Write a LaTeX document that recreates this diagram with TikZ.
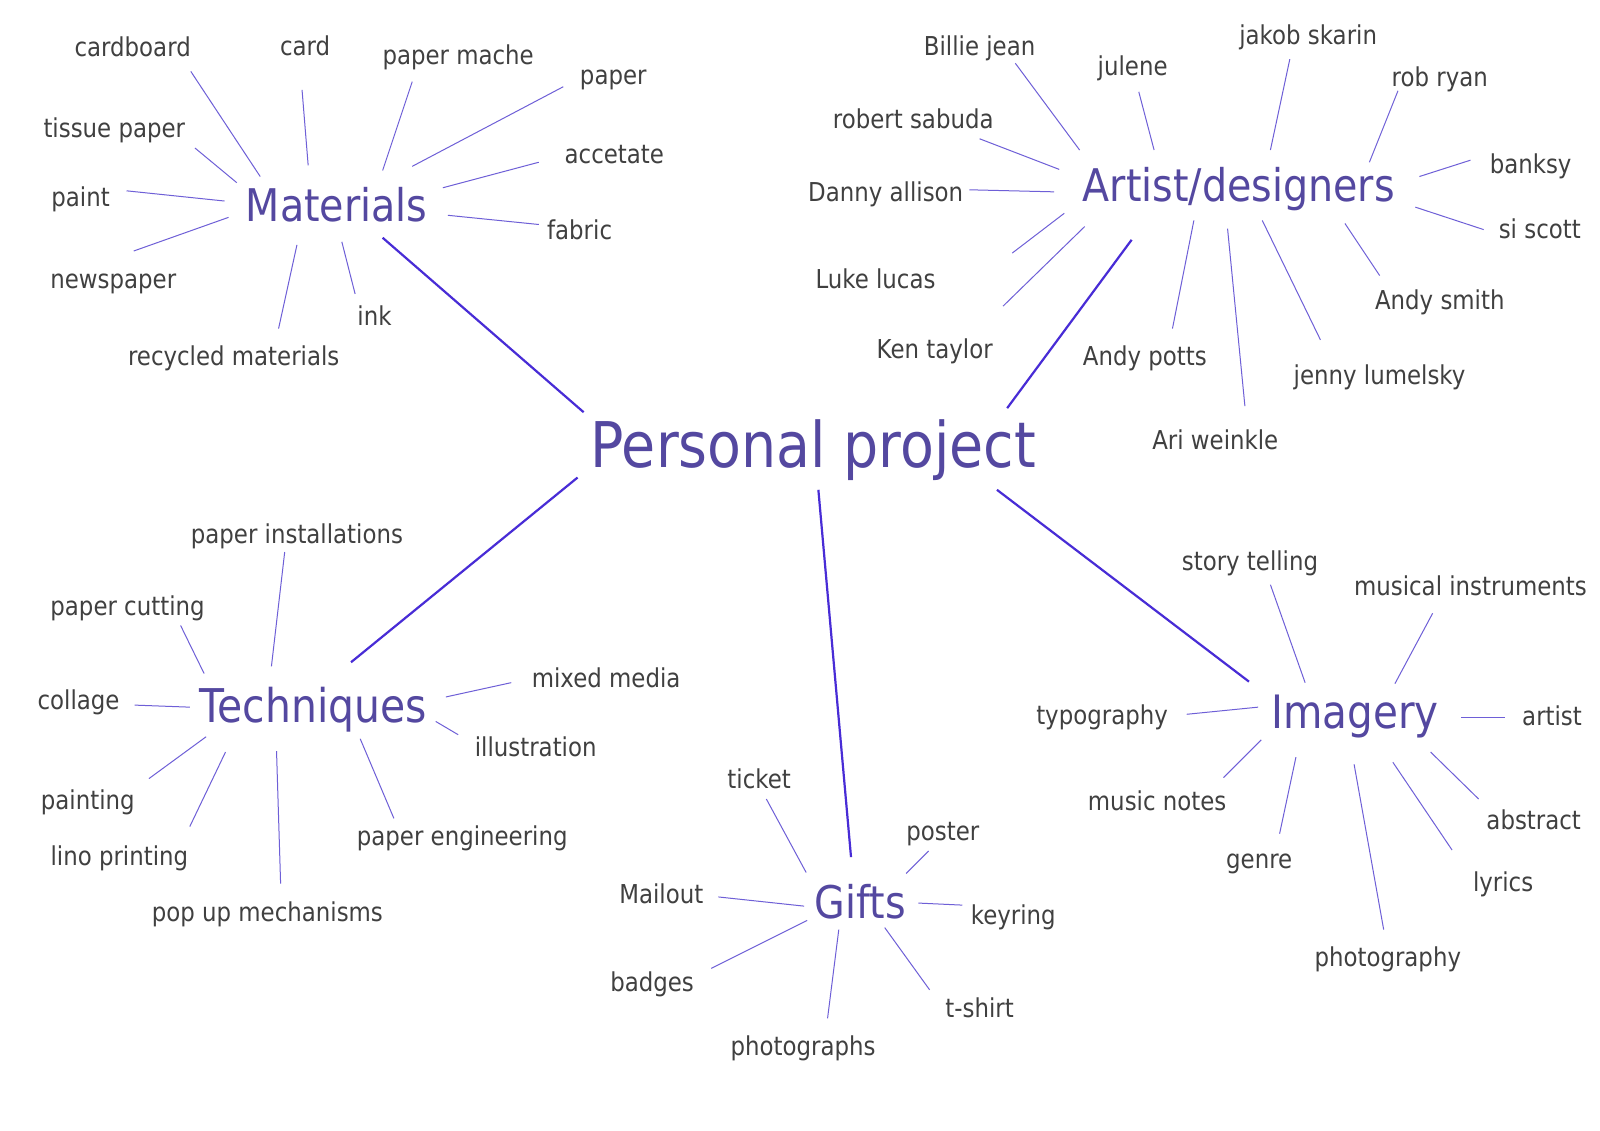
\documentclass[tikz,border=0pt]{standalone}
\usepackage{fontspec}
\setmainfont{DejaVu Sans}[FakeStretch=0.88]
\definecolor{hubtext}{RGB}{84,72,160}
\definecolor{leaftext}{RGB}{64,64,64}
\definecolor{trunkcol}{RGB}{72,44,214}
\definecolor{twigcol}{RGB}{110,95,215}
\tikzset{
  leaf/.style={anchor=base, inner sep=0pt, yshift=-1pt, text=leaftext, font=\fontsize{26}{30}\selectfont},
  hub/.style={anchor=base, inner sep=0pt, yshift=-0.5pt, text=hubtext, font=\fontsize{45}{50}\selectfont},
  rootnode/.style={anchor=base, inner sep=0pt, text=hubtext, font=\fontsize{63}{70}\selectfont},
  twig/.style={draw=twigcol, line width=1pt},
  trunk/.style={draw=trunkcol, line width=2.2pt}
}
\begin{document}
\begin{tikzpicture}[x=1.0204pt, y=-1.0204pt]
\useasboundingbox[fill=white] (0,0) rectangle (1568,1108);

% root
\node[rootnode] (root) at (797,458) {Personal project};

% hubs
\node[hub] (mat) at (330,217) {Materials};
\node[hub] (art) at (1214,197) {Artist/designers};
\node[hub, font=\fontsize{46.5}{50}\selectfont] (tech) at (307,708) {Techniques};
\node[hub] (gift) at (843,900) {Gifts};
\node[hub, font=\fontsize{46}{50}\selectfont] (img) at (1328,713) {Imagery};

% trunks
\coordinate (t1a) at (572,404); \coordinate (t1b) at (375,233);
\coordinate (t2a) at (987,400); \coordinate (t2b) at (1109,235);
\coordinate (t3a) at (566,468); \coordinate (t3b) at (344,649);
\coordinate (t4a) at (802,480); \coordinate (t4b) at (834,840);
\coordinate (t5a) at (977,480); \coordinate (t5b) at (1224,668);
\draw[trunk] (t1a) -- (t1b);
\draw[trunk] (t2a) -- (t2b);
\draw[trunk] (t3a) -- (t3b);
\draw[trunk] (t4a) -- (t4b);
\draw[trunk] (t5a) -- (t5b);

% Materials leaves
\node[leaf] (m1) at (130,54) {cardboard};
\node[leaf] (m2) at (299,53) {card};
\node[leaf] (m3) at (449,62) {paper mache};
\node[leaf] (m4) at (601,82) {paper};
\node[leaf] (m5) at (112,134) {tissue paper};
\node[leaf] (m6) at (602,159) {accetate};
\node[leaf] (m7) at (79,201) {paint};
\node[leaf] (m8) at (568,234) {fabric};
\node[leaf] (m9) at (111,282) {newspaper};
\node[leaf] (m10) at (367,318) {ink};
\node[leaf] (m11) at (229,357) {recycled materials};
\draw[twig] (187,70) -- (255,173);
\draw[twig] (296,88) -- (302,162);
\draw[twig] (404,80) -- (375,167);
\draw[twig] (552,85) -- (404,163);
\draw[twig] (191,145) -- (232,179);
\draw[twig] (528,159) -- (434,184);
\draw[twig] (124,187) -- (220,197);
\draw[twig] (439,211) -- (528,220);
\draw[twig] (131,246) -- (224,213);
\draw[twig] (335,237) -- (348,288);
\draw[twig] (291,240) -- (273,322);

% Artist leaves
\node[leaf] (a1) at (960,53) {Billie jean};
\node[leaf] (a2) at (1110,73) {julene};
\node[leaf] (a3) at (1282,43) {jakob skarin};
\node[leaf] (a4) at (1411,84) {rob ryan};
\node[leaf] (a5) at (895,125) {robert sabuda};
\node[leaf] (a6) at (1500,169) {banksy};
\node[leaf] (a7) at (868,196) {Danny allison};
\node[leaf] (a8) at (1509,233) {si scott};
\node[leaf] (a9) at (858,282) {Luke lucas};
\node[leaf] (a10) at (1411,302) {Andy smith};
\node[leaf] (a11) at (916,350) {Ken taylor};
\node[leaf] (a12) at (1122,357) {Andy potts};
\node[leaf] (a13) at (1352,376) {jenny lumelsky};
\node[leaf] (a14) at (1191,440) {Ari weinkle};
\draw[twig] (995,62) -- (1058,147);
\draw[twig] (1116,90) -- (1131,147);
\draw[twig] (1264,58) -- (1245,147);
\draw[twig] (1370,89) -- (1342,159);
\draw[twig] (960,136) -- (1038,166);
\draw[twig] (1441,157) -- (1391,173);
\draw[twig] (950,186) -- (1033,188);
\draw[twig] (1454,225) -- (1387,203);
\draw[twig] (1043,209) -- (992,248);
\draw[twig] (1063,222) -- (983,300);
\draw[twig] (1170,216) -- (1149,322);
\draw[twig] (1203,224) -- (1220,398);
\draw[twig] (1237,216) -- (1294,333);
\draw[twig] (1318,219) -- (1352,270);

% Techniques leaves
\node[leaf] (te1) at (291,532) {paper installations};
\node[leaf] (te2) at (125,602) {paper cutting};
\node[leaf] (te3) at (594,673) {mixed media};
\node[leaf] (te4) at (77,694) {collage};
\node[leaf] (te5) at (525,740) {illustration};
\node[leaf] (te6) at (86,792) {painting};
\node[leaf] (te7) at (453,828) {paper engineering};
\node[leaf] (te8) at (117,847) {lino printing};
\node[leaf] (te9) at (262,902) {pop up mechanisms};
\draw[twig] (279,541) -- (266,653);
\draw[twig] (177,613) -- (200,660);
\draw[twig] (501,669) -- (437,683);
\draw[twig] (132,691) -- (186,693);
\draw[twig] (449,720) -- (427,707);
\draw[twig] (146,763) -- (202,722);
\draw[twig] (186,810) -- (221,737);
\draw[twig] (275,866) -- (271,736);
\draw[twig] (386,802) -- (353,724);

% Gifts leaves
\node[leaf] (g1) at (744,772) {ticket};
\node[leaf] (g2) at (924,823) {poster};
\node[leaf] (g3) at (648,884) {Mailout};
\node[leaf] (g4) at (993,905) {keyring};
\node[leaf] (g5) at (639,971) {badges};
\node[leaf] (g6) at (960,996) {t-shirt};
\node[leaf] (g7) at (787,1033) {photographs};
\draw[twig] (751,783) -- (790,855);
\draw[twig] (910,834) -- (888,856);
\draw[twig] (704,879) -- (788,888);
\draw[twig] (900,885) -- (943,887);
\draw[twig] (697,949) -- (791,902);
\draw[twig] (811,998) -- (822,911);
\draw[twig] (911,970) -- (867,909);

% Imagery leaves
\node[leaf] (i1) at (1225,558) {story telling};
\node[leaf] (i2) at (1441,583) {musical instruments};
\node[leaf] (i3) at (1080,709) {typography};
\node[leaf] (i4) at (1521,710) {artist};
\node[leaf] (i5) at (1134,793) {music notes};
\node[leaf] (i6) at (1503,812) {abstract};
\node[leaf] (i7) at (1234,850) {genre};
\node[leaf] (i8) at (1473,873) {lyrics};
\node[leaf] (i9) at (1360,946) {photography};
\draw[twig] (1245,573) -- (1279,669);
\draw[twig] (1404,601) -- (1367,670);
\draw[twig] (1163,700) -- (1233,693);
\draw[twig] (1432,703) -- (1475,703);
\draw[twig] (1199,762) -- (1236,725);
\draw[twig] (1254,817) -- (1270,742);
\draw[twig] (1449,783) -- (1402,737);
\draw[twig] (1423,833) -- (1365,747);
\draw[twig] (1356,911) -- (1327,749);
\end{tikzpicture}
\end{document}
